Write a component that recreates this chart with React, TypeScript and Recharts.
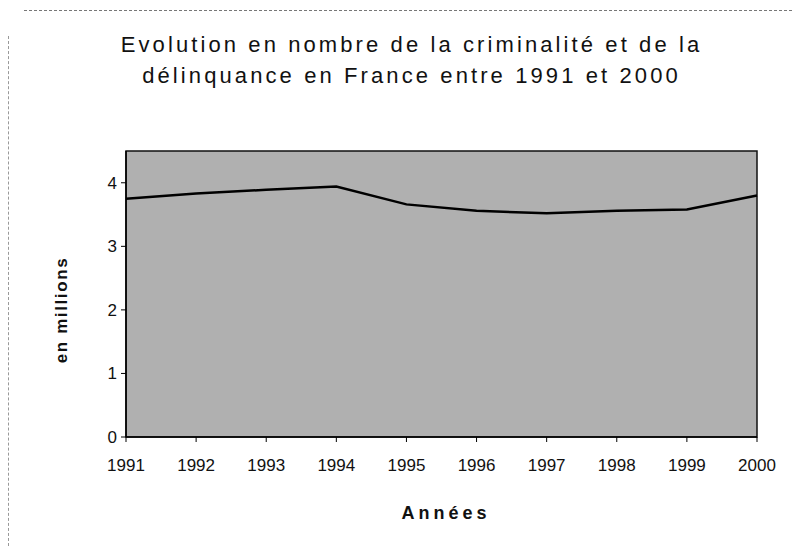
import React from "react";
import { LineChart, Line, XAxis, YAxis, ReferenceArea } from "recharts";

const years = [1991, 1992, 1993, 1994, 1995, 1996, 1997, 1998, 1999, 2000];
const millions = [3.75, 3.83, 3.89, 3.94, 3.66, 3.56, 3.52, 3.56, 3.58, 3.8];
const yTicks = [0, 1, 2, 3, 4];
const titleLines = [
  "Evolution en nombre de la criminalité et de la",
  "délinquance en France entre 1991 et 2000",
];
const xTitle = "Années";
const yTitle = "en millions";

const data = years.map((y, i) => ({ year: y, value: millions[i] }));

const FONT = '"Liberation Sans", Arial, sans-serif';

export default function App() {
  return (
    <div style={{ position: "absolute", left: 0, top: 0, width: 792, height: 546, background: "#fff", fontFamily: FONT }}>
      <div style={{ position: "absolute", left: 24, top: 10, width: 768, borderTop: "1px dashed #777" }} />
      <div style={{ position: "absolute", left: 8, top: 36, height: 510, borderLeft: "1px dashed #999" }} />
      {titleLines.map((t, i) => (
        <div
          key={i}
          style={{
            position: "absolute",
            left: 0,
            width: 823,
            top: 30 + i * 31,
            textAlign: "center",
            fontSize: 22,
            letterSpacing: 3.1,
            color: "#111",
            whiteSpace: "nowrap",
            lineHeight: "30px",
          }}
        >
          {t}
        </div>
      ))}
      <div
        style={{
          position: "absolute",
          left: 62,
          top: 310,
          transform: "translate(-50%, -50%) rotate(-90deg)",
          fontSize: 17,
          fontWeight: "bold",
          letterSpacing: 1.6,
          color: "#111",
          whiteSpace: "nowrap",
        }}
      >
        {yTitle}
      </div>
      <div
        style={{
          position: "absolute",
          left: 446,
          top: 513,
          transform: "translate(-50%, -50%)",
          fontSize: 18,
          fontWeight: "bold",
          letterSpacing: 4,
          color: "#111",
          whiteSpace: "nowrap",
        }}
      >
        {xTitle}
      </div>
      <div style={{ position: "absolute", left: 0, top: 0 }}>
        <LineChart width={792} height={546} data={data} margin={{ top: 151, right: 35, bottom: 69, left: 66 }}>
          <ReferenceArea
            x1={1991}
            x2={2000}
            y1={0}
            y2={4.5}
            fill="#b0b0b0"
            fillOpacity={1}
            stroke="#111"
            strokeWidth={1.5}
            ifOverflow="visible"
          />
          <XAxis
            dataKey="year"
            type="number"
            domain={[1991, 2000]}
            ticks={years}
            interval={0}
            height={40}
            axisLine={{ stroke: "#000", strokeWidth: 1.5 }}
            tickLine={{ stroke: "#000" }}
            tickSize={5}
            tickMargin={17}
            tick={{ fill: "#111", fontSize: 17, fontFamily: FONT }}
          />
          <YAxis
            type="number"
            domain={[0, 4.5]}
            ticks={yTicks}
            width={60}
            axisLine={{ stroke: "#000", strokeWidth: 1.5 }}
            tickLine={{ stroke: "#000" }}
            tickSize={5}
            tickMargin={4}
            tick={{ fill: "#111", fontSize: 17, fontFamily: FONT }}
          />
          <Line
            type="linear"
            dataKey="value"
            stroke="#000"
            strokeWidth={2.5}
            dot={false}
            isAnimationActive={false}
          />
        </LineChart>
      </div>
    </div>
  );
}
